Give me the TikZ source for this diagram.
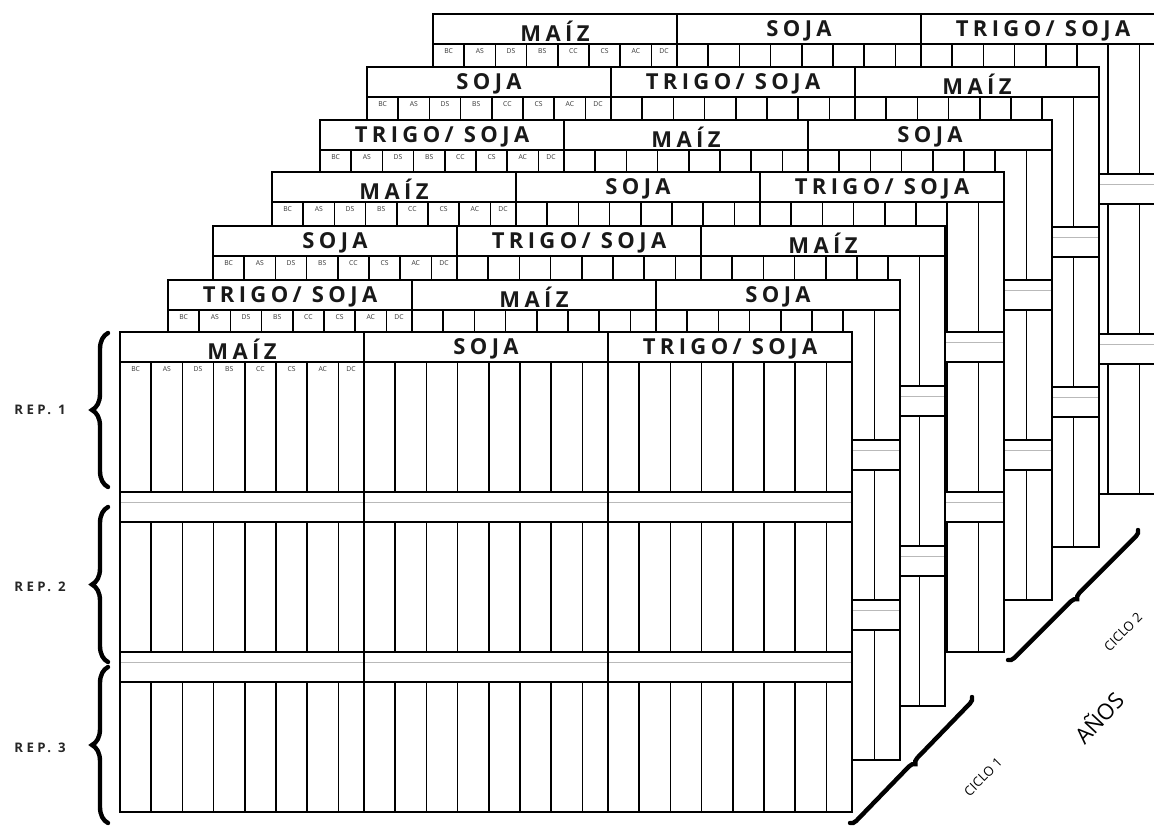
\documentclass[tikz,border=0pt]{standalone}
\usepackage{fontspec}
\setmainfont{Open Sans}
\newfontfamily\cultfont[LetterSpace=20]{Open Sans}
\newfontfamily\repfont[LetterSpace=26]{Open Sans}
\usetikzlibrary{decorations.pathreplacing}

\tikzset{
  cultivo/.style={font=\cultfont\bfseries\fontsize{11}{12}\selectfont, inner sep=0pt, text=black!90},
  trat/.style={font=\fontsize{3.4}{4}\selectfont, inner sep=0pt, text=black!80},
  rep/.style={font=\repfont\bfseries\fontsize{6.6}{7}\selectfont, inner sep=0pt, text=black!85},
  ciclo/.style={font=\fontsize{6.5}{7}\selectfont, inner sep=0pt, rotate=45},
  llave/.style={decorate, line width=2.2pt, line cap=round},
}

\begin{document}
\begin{tikzpicture}[x=0.5pt,y=-0.5pt,line width=0.8pt]
\useasboundingbox (0,0) rectangle (1154,827);
\clip (0,0) rectangle (1154,827);

% Parcelas (de atras hacia adelante)
\foreach \px/\py/\ca/\cb/\cc [count=\i] in {
  433/14/MAÍZ/SOJA/{TRIGO/ SOJA},
  367/67/SOJA/{TRIGO/ SOJA}/MAÍZ,
  320/120/{TRIGO/ SOJA}/MAÍZ/SOJA,
  272/172/MAÍZ/SOJA/{TRIGO/ SOJA},
  213/226/SOJA/{TRIGO/ SOJA}/MAÍZ,
  168/280/{TRIGO/ SOJA}/MAÍZ/SOJA,
  120/332/MAÍZ/SOJA/{TRIGO/ SOJA}}
{
\begin{scope}[shift={(\px,\py)}]
  \fill[white] (0,0) rectangle (732,480);

  % Franjas
  \foreach \r in {30,190,350}
    \foreach \c in {0,244,488}
      \foreach \k in {1,...,7}
        \draw (\c+31.2*\k,\r) -- ++(0,130);

  % Calles
  \foreach \b in {160,320} {
    \draw (0,\b) -- (732,\b);
    \draw (0,\b+30) -- (732,\b+30);
    \draw[gray!55, line width=0.5pt] (0,\b+10) -- (732,\b+10);
  }

  % Encabezado y borde
  \draw (0,30) -- (732,30);
  \draw (244,0) -- (244,480);
  \draw (488,0) -- (488,480);
  \draw[line width=1pt] (0,0) rectangle (732,480);

  \node[cultivo] (cult-\i-1) at (122,17) {\ca};
  \node[cultivo] (cult-\i-2) at (366,17) {\cb};
  \node[cultivo] (cult-\i-3) at (610,17) {\cc};

  \foreach \t [count=\j] in {BC,AS,DS,BS,CC,CS,AC,DC}
    \node[trat] (trat-\i-\j) at ({min(31.2*\j-15.6,231)},37) {\t};
\end{scope}
}

% Repeticiones
\draw[llave, decoration={brace, amplitude=8pt}] (108,487) -- (108,333);
\draw[llave, decoration={brace, amplitude=8pt}] (108,662) -- (108,507);
\draw[llave, decoration={brace, amplitude=8pt}] (108,823) -- (108,667);

\node[rep] (rep1) at (40,410) {REP. 1};
\node[rep] (rep2) at (40,587) {REP. 2};
\node[rep] (rep3) at (40,748) {REP. 3};

% Ciclos
\draw[llave, decoration={brace, amplitude=3pt}] (972,697) -- (850,823);
\draw[llave, decoration={brace, amplitude=3pt}] (1138,530) -- (1008,660);

\node[ciclo] (ciclo1) at (983,777) {CICLO 1};
\node[ciclo] (ciclo2) at (1123,632) {CICLO 2};
\node[font=\fontsize{11}{12}\selectfont, inner sep=0pt, rotate=47] (anios) at (1098,717) {AÑOS};

\end{tikzpicture}
\end{document}
